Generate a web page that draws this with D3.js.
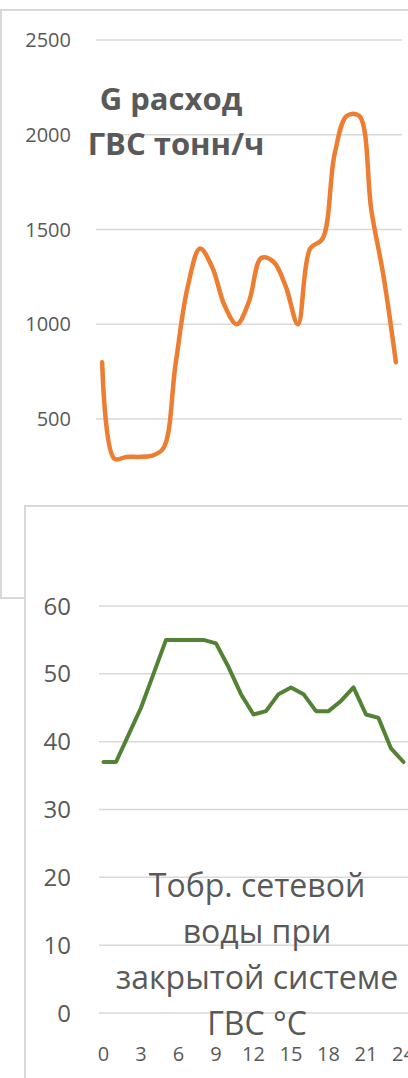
<!DOCTYPE html>
<html>
<head>
<meta charset="utf-8">
<script src="https://cdn.jsdelivr.net/npm/d3@7"></script>
<style>
  html, body { margin: 0; padding: 0; background: #ffffff; }
  svg { display: block; }
  text { font-family: "Open Sans", "DejaVu Sans", sans-serif; fill: #595959; }
</style>
</head>
<body>
<svg id="chart" width="408" height="1078"></svg>
<script>
// ---- data ----
const hours = [0,1,2,3,4,5,6,7,8,9,10,11,12,13,14,15,16,17,18,19,20,21,22,23,24];
const flowValues = [800,290,300,300,305,345,790,1200,1400,1300,1100,1000,1120,1350,1330,1200,1000,1400,1450,1900,2100,2100,1600,1250,800];
const tempValues = [37,37,41,45,50,55,55,55,55,54.5,51,47,44,44.5,47,48,47,44.5,44.5,46,48,44,43.5,39,37];
const flowTicks = [500,1000,1500,2000,2500];
const tempTicks = [0,10,20,30,40,50,60];
const hourTicks = [0,3,6,9,12,15,18,21,24];
const flowTitle = ["G расход", "ГВС тонн/ч"];
const tempTitle = ["Тобр. сетевой", "воды при", "закрытой системе", "ГВС °C"];

const svg = d3.select("#chart");
const grid = "#d9d9d9";

// ---- top panel ----
const topPanel = svg.append("g");
topPanel.append("rect").attr("x", 1).attr("y", 10).attr("width", 520).attr("height", 588)
  .attr("fill", "#fff").attr("stroke", grid).attr("stroke-width", 2);

const xTop = d3.scaleBand().domain(hours).range([96, 402]);
const yTop = d3.scaleLinear().domain([0, 2500]).range([513.75, 40]);

topPanel.append("g").selectAll("line").data(flowTicks).join("line")
  .attr("x1", 96).attr("x2", 402)
  .attr("y1", d => yTop(d)).attr("y2", d => yTop(d))
  .attr("stroke", grid).attr("stroke-width", 1.5);

topPanel.append("g").selectAll("text").data(flowTicks).join("text")
  .attr("x", 71).attr("y", d => yTop(d)).attr("dy", "0.36em")
  .attr("text-anchor", "end").style("font-size", "20px")
  .text(d => d);

topPanel.append("path")
  .datum(hours.map((h, i) => [h, flowValues[i]]))
  .attr("fill", "none").attr("stroke", "#ED7D31").attr("stroke-width", 4.5)
  .attr("stroke-linecap", "round").attr("stroke-linejoin", "round")
  .attr("d", d3.line()
    .x(d => xTop(d[0]) + xTop.bandwidth() / 2)
    .y(d => yTop(d[1]))
    .curve(d3.curveCatmullRom.alpha(0.5)));

const titleX = [171, 176];
const titleY = [110, 155];
topPanel.append("g").selectAll("text").data(flowTitle).join("text")
  .attr("x", (d, i) => titleX[i]).attr("y", (d, i) => titleY[i])
  .attr("text-anchor", "middle")
  .style("font-size", "31px").style("font-weight", "bold")
  .text(d => d);

// ---- bottom panel ----
const botPanel = svg.append("g");
botPanel.append("rect").attr("x", 25).attr("y", 506).attr("width", 500).attr("height", 700)
  .attr("fill", "#fff").attr("stroke", grid).attr("stroke-width", 2);

const xBot = d3.scaleLinear().domain([0, 24]).range([103.5, 403.5]);
const yBot = d3.scaleLinear().domain([0, 60]).range([1013, 606]);

botPanel.append("g").selectAll("line").data(tempTicks).join("line")
  .attr("x1", 99).attr("x2", 420)
  .attr("y1", d => yBot(d)).attr("y2", d => yBot(d))
  .attr("stroke", grid).attr("stroke-width", 1.5);

botPanel.append("g").selectAll("text").data(tempTicks).join("text")
  .attr("x", 71).attr("y", d => yBot(d)).attr("dy", "0.36em")
  .attr("text-anchor", "end").style("font-size", "24px")
  .text(d => d);

botPanel.append("g").selectAll("text").data(hourTicks).join("text")
  .attr("x", d => xBot(d)).attr("y", 1061)
  .attr("text-anchor", "middle").style("font-size", "20px")
  .text(d => d);

botPanel.append("path")
  .datum(hours.map((h, i) => [h, tempValues[i]]))
  .attr("fill", "none").attr("stroke", "#548235").attr("stroke-width", 4)
  .attr("stroke-linecap", "round").attr("stroke-linejoin", "round")
  .attr("d", d3.line().x(d => xBot(d[0])).y(d => yBot(d[1])));

const tBase = [897, 943, 989, 1035];
botPanel.append("g").selectAll("text").data(tempTitle).join("text")
  .attr("x", 257).attr("y", (d, i) => tBase[i])
  .attr("text-anchor", "middle").style("font-size", "32px")
  .text(d => d);
</script>
</body>
</html>
